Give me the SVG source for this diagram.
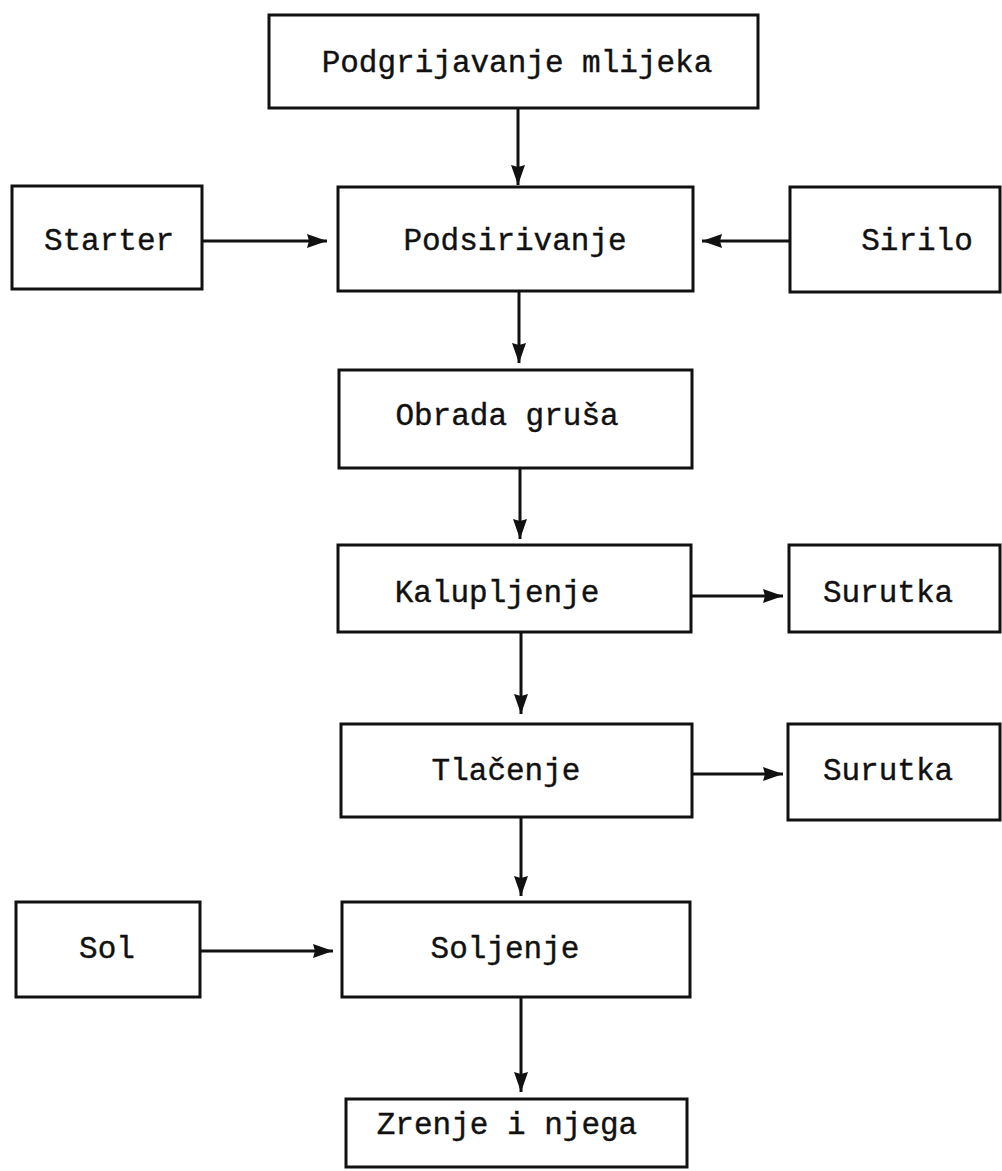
<svg xmlns="http://www.w3.org/2000/svg" width="1002" height="1171" viewBox="0 0 1002 1171">
<style>
.box{fill:#fff;stroke:#111;stroke-width:3}
.lbl{font-family:"Liberation Mono","DejaVu Sans Mono",monospace;font-size:31px;fill:#111;stroke:#111;stroke-width:0.4;text-anchor:middle}
.con{stroke:#111;stroke-width:3;fill:none;marker-end:url(#ah)}
</style>
<defs>
<marker id="ah" viewBox="0 0 20 14" refX="20" refY="7" markerWidth="20" markerHeight="14" markerUnits="userSpaceOnUse" orient="auto">
<path d="M0,0 L20,7 L0,14 L2,7 z" fill="#111"/>
</marker>
</defs>
<rect width="1002" height="1171" fill="#fff"/>
<g id="connectors">
<line class="con" x1="518" y1="108" x2="518" y2="185"/>
<line class="con" x1="202" y1="241" x2="327" y2="241"/>
<line class="con" x1="790" y1="241" x2="702" y2="241"/>
<line class="con" x1="519" y1="291" x2="519" y2="363"/>
<line class="con" x1="520" y1="468" x2="520" y2="539"/>
<line class="con" x1="691" y1="596" x2="783" y2="596"/>
<line class="con" x1="521" y1="632" x2="521" y2="714"/>
<line class="con" x1="692" y1="774" x2="783" y2="774"/>
<line class="con" x1="521" y1="817" x2="521" y2="896"/>
<line class="con" x1="200" y1="951" x2="333" y2="951"/>
<line class="con" x1="521" y1="997" x2="521" y2="1092"/>
</g>
<g id="n1"><rect class="box" x="269" y="15" width="489" height="93"/><text class="lbl" x="517" y="72">Podgrijavanje mlijeka</text></g>
<g id="n2"><rect class="box" x="12" y="186" width="190" height="103"/><text class="lbl" x="109" y="250">Starter</text></g>
<g id="n3"><rect class="box" x="338" y="187" width="355" height="104"/><text class="lbl" x="515" y="250">Podsirivanje</text></g>
<g id="n4"><rect class="box" x="790" y="187" width="210" height="105"/><text class="lbl" x="917" y="250">Sirilo</text></g>
<g id="n5"><rect class="box" x="339" y="370" width="353" height="98"/><text class="lbl" x="507" y="425">Obrada gruša</text></g>
<g id="n6"><rect class="box" x="338" y="545" width="353" height="87"/><text class="lbl" x="497" y="602">Kalupljenje</text></g>
<g id="n7"><rect class="box" x="789" y="545" width="211" height="87"/><text class="lbl" x="888" y="602">Surutka</text></g>
<g id="n8"><rect class="box" x="341" y="724" width="351" height="93"/><text class="lbl" x="506" y="780">Tlačenje</text></g>
<g id="n9"><rect class="box" x="788" y="724" width="212" height="96"/><text class="lbl" x="888" y="780">Surutka</text></g>
<g id="n10"><rect class="box" x="16" y="902" width="184" height="95"/><text class="lbl" x="107" y="958">Sol</text></g>
<g id="n11"><rect class="box" x="342" y="902" width="348" height="95"/><text class="lbl" x="505" y="958">Soljenje</text></g>
<g id="n12"><rect class="box" x="346" y="1099" width="341" height="68"/><text class="lbl" x="507" y="1134">Zrenje i njega</text></g>
</svg>
